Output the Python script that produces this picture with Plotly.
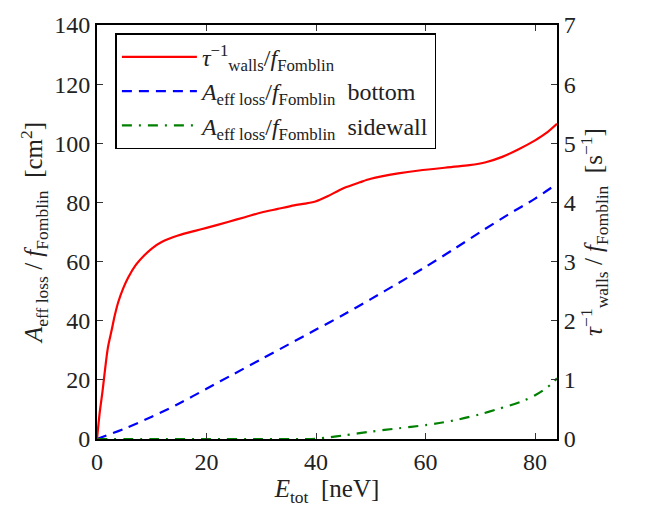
import plotly.graph_objects as go

# red: tau^-1_walls / f_Fomblin  [s^-1]  (right axis)
x_red = [0, 0.5, 1, 1.5, 2, 2.7, 3.2, 3.9, 4.8, 5.7, 7, 8.7, 10, 11.8, 14.8, 17.9, 20, 23.9, 27, 30, 33, 36, 38, 40, 42, 45, 48, 50, 55, 58.8, 64.9, 68, 71, 74, 77, 80, 82, 84]
y_red = [0, 0.45, 0.8, 1.2, 1.55, 1.85, 2.07, 2.32, 2.55, 2.73, 2.93, 3.11, 3.22, 3.33, 3.44, 3.52, 3.57, 3.67, 3.75, 3.83, 3.89, 3.95, 3.98, 4.02, 4.1, 4.24, 4.34, 4.4, 4.49, 4.54, 4.6, 4.63, 4.68, 4.77, 4.9, 5.05, 5.17, 5.33]

# blue: A_eff loss / f_Fomblin bottom [cm^2]
x_blue = [0, 5, 10, 15, 20, 25, 30, 35, 40, 45, 50, 55, 60, 65, 70, 75, 80, 84]
y_blue = [0, 3.5, 7.5, 12, 17, 22, 27, 32, 37, 42, 47.3, 52.7, 58.2, 64, 70, 75.8, 81.3, 86.3]

# green: A_eff loss / f_Fomblin sidewall [cm^2]
x_green = [0, 10, 20, 30, 38, 40, 42, 45, 50, 55, 60, 62.5, 66, 69.8, 73, 77.7, 80, 81.9, 83, 84]
y_green = [0, 0, 0, 0, 0, 0.1, 0.5, 1.2, 2.5, 3.6, 4.7, 5.4, 6.6, 8.3, 10.0, 12.8, 14.8, 17.0, 18.7, 20.5]

x_ticks = [0, 20, 40, 60, 80]
y_ticks = [0, 20, 40, 60, 80, 100, 120, 140]
y2_ticks = [0, 1, 2, 3, 4, 5, 6, 7]

FONT = "Liberation Serif"

fig = go.Figure()
fig.add_trace(go.Scatter(
    x=x_red, y=y_red, yaxis="y2", mode="lines", line=dict(color="red", width=2.2, shape="spline", smoothing=0.8),
    name="<i>τ</i><sup>−1</sup><sub>walls</sub>/<i>f</i><sub>Fomblin</sub>"))
fig.add_trace(go.Scatter(
    x=x_blue, y=y_blue, mode="lines", line=dict(color="blue", width=2.2, dash="10px,7px", shape="spline", smoothing=0.8),
    name="<i>A</i><sub>eff loss</sub>/<i>f</i><sub>Fomblin</sub>  bottom"))
fig.add_trace(go.Scatter(
    x=x_green, y=y_green, mode="lines", line=dict(color="green", width=2.2, dash="10px,7px,2px,7px", shape="spline", smoothing=0.8),
    name="<i>A</i><sub>eff loss</sub>/<i>f</i><sub>Fomblin</sub>  sidewall"))

fig.update_layout(
    width=652, height=510,
    margin=dict(l=97, r=95, t=12, b=71),
    paper_bgcolor="white", plot_bgcolor="white",
    font=dict(family=FONT, size=24, color="#222"),
    showlegend=True,
    legend=dict(x=0.04, y=0.98, xanchor="left", yanchor="top",
                bgcolor="white", bordercolor="black", borderwidth=1.5,
                font=dict(family=FONT, size=24, color="#222"),
                tracegroupgap=0, itemwidth=75),
    xaxis=dict(range=[0, 84], tickvals=x_ticks, ticks="inside", ticklen=6, tickcolor="#333",
               showline=True, linecolor="black", linewidth=2, mirror="ticks", showgrid=False, zeroline=False,
               title=dict(text="<i>E</i><sub>tot</sub>  [neV]", font=dict(size=25), standoff=6)),
    yaxis=dict(range=[0, 140], tickvals=y_ticks, ticks="inside", ticklen=6, tickcolor="#333",
               showline=True, linecolor="black", linewidth=2, showgrid=False, zeroline=False,
               title=dict(text="<i>A</i><sub>eff loss</sub> / <i>f</i><sub>Fomblin</sub>  [cm<sup>2</sup>]", font=dict(size=25), standoff=4)),
    yaxis2=dict(range=[0, 7], tickvals=y2_ticks, overlaying="y", side="right", ticks="inside", ticklen=6, tickcolor="#333",
                showline=True, linecolor="black", linewidth=2, showgrid=False, zeroline=False,
                title=dict(text="<i>τ</i><sup>−1</sup><sub>walls</sub> / <i>f</i><sub>Fomblin</sub>  [s<sup>−1</sup>]", font=dict(size=25), standoff=6)),
)

fig.write_html("out.html")
